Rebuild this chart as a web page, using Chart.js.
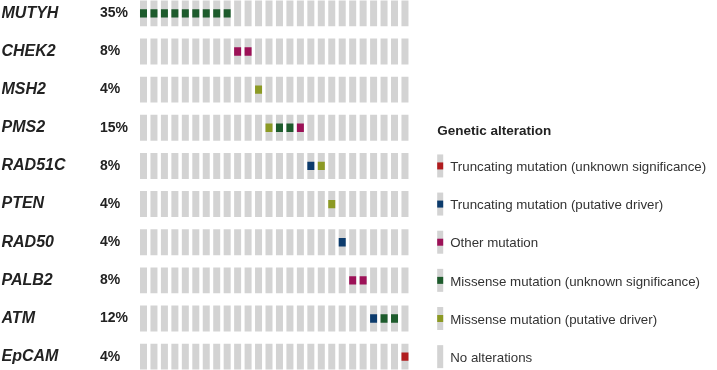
<!DOCTYPE html>
<html>
<head>
<meta charset="utf-8">
<script src="https://cdn.jsdelivr.net/npm/chart.js@4.4.1/dist/chart.umd.min.js"></script>
<style>
  html, body { margin: 0; padding: 0; background: #ffffff; }
  #wrap { width: 717px; height: 370px; position: relative; }
</style>
</head>
<body>
<div id="wrap"><canvas id="c"></canvas></div>
<script>
// ---- data ----
const genes = ['MUTYH', 'CHEK2', 'MSH2', 'PMS2', 'RAD51C', 'PTEN', 'RAD50', 'PALB2', 'ATM', 'EpCAM'];
const percents = ['35%', '8%', '4%', '15%', '8%', '4%', '4%', '8%', '12%', '4%'];
const samples = ['S1','S2','S3','S4','S5','S6','S7','S8','S9','S10','S11','S12','S13',
                 'S14','S15','S16','S17','S18','S19','S20','S21','S22','S23','S24','S25','S26'];
// gene altered in each sample (index into genes)
const sampleGene = [0,0,0,0,0,0,0,0,0, 1,1, 2, 3,3,3,3, 4,4, 5, 6, 7,7, 8,8,8, 9];
// alteration type of each sample
const sampleType = ['MU','MU','MU','MU','MU','MU','MU','MU','MU',
                    'OT','OT', 'MP', 'MP','MU','MU','OT', 'TP','MP', 'MP', 'TP',
                    'OT','OT', 'TP','MU','MU', 'TU'];
const typeKeys   = ['TU', 'TP', 'OT', 'MU', 'MP'];
const typeLabels = ['Truncating mutation (unknown significance)',
                    'Truncating mutation (putative driver)',
                    'Other mutation',
                    'Missense mutation (unknown significance)',
                    'Missense mutation (putative driver)'];
const noAltLabel = 'No alterations';
const legendTitle = 'Genetic alteration';

// ---- styles ----
const typeColors = { TU: '#b01c1e', TP: '#0c3b6c', OT: '#9c1157', MU: '#1d5b2c', MP: '#8c9a24' };
const grayColor = '#d3d3d3';
const textColor = '#222222';
const FONT = "'Liberation Sans', Arial, Helvetica, sans-serif";
const cellHalf = 0.34;
const markHalf = 0.11;

const datasets = [];
typeKeys.forEach(k => {
  datasets.push({
    label: k,
    data: samples.map((s, i) => sampleType[i] === k ? [sampleGene[i] - markHalf, sampleGene[i] + markHalf] : null),
    backgroundColor: typeColors[k],
    grouped: false, order: 0,
    categoryPercentage: 1.0, barPercentage: 0.67, borderWidth: 0, borderSkipped: false
  });
});
genes.forEach((g, gi) => {
  datasets.push({
    label: g,
    data: samples.map(() => [gi - cellHalf, gi + cellHalf]),
    backgroundColor: grayColor,
    grouped: false, order: 1,
    categoryPercentage: 1.0, barPercentage: 0.67, borderWidth: 0, borderSkipped: false
  });
});

const legendPlugin = {
  id: 'oncoLegend',
  afterDraw(chart) {
    const ctx = chart.ctx;
    const ys = chart.scales.y;
    const x0 = chart.chartArea.right + 27;
    ctx.save();
    ctx.fillStyle = textColor;
    ctx.font = "bold 13.5px " + FONT;
    ctx.textAlign = 'left';
    ctx.textBaseline = 'middle';
    ctx.fillText(legendTitle, x0, ys.getPixelForValue(3) + 3);
    const items = typeKeys.map((k, i) => ({ label: typeLabels[i], color: typeColors[k] }));
    items.push({ label: noAltLabel, color: null });
    items.forEach((it, i) => {
      const y = ys.getPixelForValue(4 + i);
      ctx.fillStyle = grayColor;
      ctx.fillRect(x0, y - 11.5, 6, 23);
      if (it.color) {
        ctx.fillStyle = it.color;
        ctx.fillRect(x0, y - 3.5, 6, 7);
      }
      ctx.fillStyle = '#333333';
      ctx.font = "13.3px " + FONT;
      ctx.fillText(it.label, x0 + 13, y + 1.5);
    });
    ctx.restore();
  }
};

const setTicks = (scale) => { scale.ticks = genes.map((g, i) => ({ value: i })); };

new Chart(document.getElementById('c'), {
  type: 'bar',
  data: { labels: samples, datasets },
  options: {
    responsive: true,
    maintainAspectRatio: false,
    animation: false,
    layout: { padding: { left: 1.5, right: 306.8, top: 0, bottom: 0 } },
    plugins: { legend: { display: false }, tooltip: { enabled: false } },
    scales: {
      x: { type: 'category', display: false, offset: true },
      y: {
        type: 'linear', reverse: true, min: -0.35, max: 9.35, weight: 2,
        position: 'left',
        afterBuildTicks: setTicks,
        afterFit: (s) => { s.width = 98.5; s.paddingTop = 0; s.paddingBottom = 0; },
        grid: { display: false, drawTicks: false },
        border: { display: false },
        ticks: {
          autoSkip: false, crossAlign: 'far', padding: 0,
          color: textColor,
          font: { family: FONT, size: 16, weight: 'bold', style: 'italic' },
          callback: (v) => genes[v]
        }
      },
      yPct: {
        type: 'linear', reverse: true, min: -0.35, max: 9.35, weight: 1,
        position: 'left',
        afterBuildTicks: setTicks,
        afterFit: (s) => { s.width = 38.27; s.paddingTop = 0; s.paddingBottom = 0; },
        grid: { display: false, drawTicks: false },
        border: { display: false },
        ticks: {
          autoSkip: false, crossAlign: 'far', padding: 0,
          color: textColor,
          font: { family: FONT, size: 14, weight: 'bold' },
          callback: (v) => percents[v]
        }
      }
    }
  },
  plugins: [legendPlugin]
});
</script>
</body>
</html>
